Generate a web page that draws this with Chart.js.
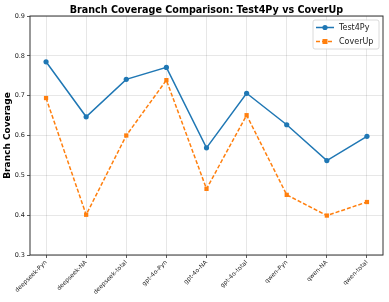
<!DOCTYPE html>
<html>
<head>
<meta charset="utf-8">
<script src="https://cdn.jsdelivr.net/npm/chart.js@4.4.1/dist/chart.umd.min.js"></script>
<style>
  html, body { margin: 0; padding: 0; background: #fff; }
  #wrap { width: 389px; height: 302px; }
</style>
</head>
<body>
<div id="wrap"><canvas id="chartLine" width="389" height="302"></canvas></div>
<script>
// Datos
const categorias = ["deepseek-Pyn", "deepseek-NA", "deepseek-total", "gpt-4o-Pyn", "gpt-4o-NA",
    "gpt-4o-total", "qwen-Pyn", "qwen-NA", "qwen-total"];
const test4py = [0.785, 0.647, 0.741, 0.771, 0.569, 0.706, 0.627, 0.537, 0.598];
const coverup = [0.694, 0.401, 0.600, 0.739, 0.466, 0.651, 0.451, 0.399, 0.433];
const ticksY = [0.3, 0.4, 0.5, 0.6, 0.7, 0.8, 0.9];
const titulo = "Branch Coverage Comparison: Test4Py vs CoverUp";

const azul = "#1f77b4";
const naranja = "#ff7f0e";

// Titulo centrado sobre el area, borde y leyenda dentro del grafico
const marcoLeyenda = {
    id: "marcoLeyenda",
    afterDraw(chart) {
        const ctx = chart.ctx;
        const a = chart.chartArea;
        ctx.save();
        ctx.strokeStyle = "#333";
        ctx.lineWidth = 1;
        ctx.strokeRect(a.left, a.top, a.right - a.left, a.bottom - a.top);

        ctx.fillStyle = "#000";
        ctx.font = "bold 9.6px 'DejaVu Sans'";
        ctx.textAlign = "center";
        ctx.textBaseline = "middle";
        ctx.fillText(titulo, (a.left + a.right) / 2, 10);
        ctx.textAlign = "left";

        // leyenda
        const x = a.right - 70, y = a.top + 4, w = 66, h = 29;
        ctx.fillStyle = "rgba(255,255,255,0.85)";
        ctx.strokeStyle = "#d0d0d0";
        ctx.lineWidth = 0.8;
        ctx.beginPath();
        ctx.roundRect(x, y, w, h, 2);
        ctx.fill();
        ctx.stroke();

        const items = [
            { txt: "Test4Py", color: azul, dash: [], forma: "circle" },
            { txt: "CoverUp", color: naranja, dash: [4, 2], forma: "square" }
        ];
        items.forEach(function(it, i) {
            const yy = y + 7.5 + i * 14;
            ctx.strokeStyle = it.color;
            ctx.lineWidth = 1.5;
            ctx.setLineDash(it.dash);
            ctx.beginPath();
            ctx.moveTo(x + 3, yy);
            ctx.lineTo(x + 21, yy);
            ctx.stroke();
            ctx.setLineDash([]);
            ctx.fillStyle = it.color;
            if (it.forma === "circle") {
                ctx.beginPath();
                ctx.arc(x + 12, yy, 2.6, 0, Math.PI * 2);
                ctx.fill();
            } else {
                ctx.fillRect(x + 9.5, yy - 2.5, 5, 5);
            }
            ctx.fillStyle = "#222";
            ctx.font = "8px 'DejaVu Sans'";
            ctx.textBaseline = "middle";
            ctx.fillText(it.txt, x + 26, yy + 0.5);
        });
        ctx.restore();
    }
};

const puntos = (arr) => arr.map((v, i) => ({ x: i, y: v }));

const config = {
    type: "line",
    data: {
        datasets: [{
            label: "Test4Py",
            data: puntos(test4py),
            borderColor: azul,
            backgroundColor: azul,
            borderWidth: 1.5,
            pointStyle: "circle",
            pointRadius: 2.6,
            pointBorderWidth: 0,
            tension: 0
        }, {
            label: "CoverUp",
            data: puntos(coverup),
            borderColor: naranja,
            backgroundColor: naranja,
            borderWidth: 1.5,
            borderDash: [4, 2],
            pointStyle: "rect",
            pointRadius: 3,
            pointBorderWidth: 0,
            tension: 0
        }]
    },
    options: {
        responsive: false,
        animation: false,
        layout: { padding: { left: 0, right: 6, top: 16, bottom: 0 } },
        plugins: {
            legend: { display: false },
            tooltip: { enabled: false },
            title: { display: false }
        },
        scales: {
            x: {
                type: "linear",
                min: -0.4,
                max: 8.4,
                afterBuildTicks(scale) {
                    scale.ticks = categorias.map((c, i) => ({ value: i }));
                },
                afterFit(scale) { scale.height = 47; },
                ticks: {
                    callback: (v) => categorias[v],
                    minRotation: 45,
                    maxRotation: 45,
                    autoSkip: false,
                    padding: 1,
                    color: "#222",
                    font: { family: "'DejaVu Sans'", size: 6 }
                },
                grid: {
                    color: "rgba(0,0,0,0.16)",
                    lineWidth: 0.6,
                    borderDash: [2, 2],
                    tickColor: "#333",
                    tickLength: 3,
                    tickBorderDash: [],
                    tickWidth: 0.8
                },
                border: { display: false }
            },
            y: {
                min: 0.3,
                max: 0.9,
                afterBuildTicks(scale) {
                    scale.ticks = ticksY.map((v) => ({ value: v }));
                },
                afterFit(scale) { scale.width = 30; },
                ticks: {
                    callback: (v) => v.toFixed(1),
                    padding: 2,
                    color: "#222",
                    font: { family: "'DejaVu Sans'", size: 6.5 }
                },
                title: {
                    display: true,
                    text: "Branch Coverage",
                    color: "#000",
                    padding: { top: 2, bottom: 0 },
                    font: { family: "'DejaVu Sans'", size: 9, weight: "bold" }
                },
                grid: {
                    color: "rgba(0,0,0,0.16)",
                    lineWidth: 0.6,
                    borderDash: [2, 2],
                    tickColor: "#333",
                    tickLength: 3,
                    tickBorderDash: [],
                    tickWidth: 0.8
                },
                border: { display: false }
            }
        }
    },
    plugins: [marcoLeyenda]
};

var chartLine = new Chart(document.getElementById("chartLine"), config);
</script>
</body>
</html>
